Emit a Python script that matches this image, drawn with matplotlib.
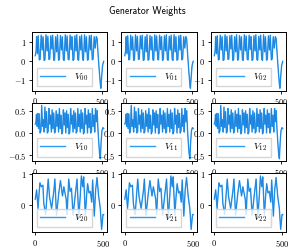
import matplotlib
matplotlib.use("Agg")
import matplotlib.pyplot as plt

plt.rcParams["font.family"] = "serif"
plt.rcParams["font.serif"] = ["cmr10"]
plt.rcParams["mathtext.fontset"] = "cm"
plt.rcParams["axes.formatter.use_mathtext"] = True
plt.rcParams["font.size"] = 6

# extrema of each row's weight trace (step, value)
row0_x = [0, 6, 10, 16, 22, 30, 36, 44, 52, 58, 66, 72, 80, 88, 94, 102, 108, 116,
          124, 130, 138, 144, 152, 160, 166, 174, 180, 188, 196, 202, 210, 216, 224,
          232, 238, 246, 252, 260, 268, 274, 282, 288, 296, 304, 310, 318, 324, 332,
          340, 346, 354, 360, 368, 376, 382, 390, 396, 404, 412, 418, 426, 432, 440,
          448, 456, 462, 470, 478, 486, 490, 496, 503, 511]
row0_y = [0.30, 0.55, 1.30, 0.40, 1.35, 0.08, 0.10, 1.38, 0.60, 1.30, 0.05, 0.08, 1.40,
          0.55, 1.32, 0.10, 0.12, 1.35, 0.65, 1.38, 0.05, 0.08, 1.30, 0.50, 1.40, 0.06,
          0.10, 1.36, 0.60, 1.30, 0.08, 0.05, 1.40, 0.55, 1.34, 0.10, 0.08, 1.38, 0.62,
          1.30, 0.05, 0.10, 1.35, 0.55, 1.40, 0.08, 0.06, 1.32, 0.60, 1.38, 0.10, 0.05,
          1.40, 0.50, 1.30, 0.06, 0.10, 1.35, 0.60, 1.38, 0.08, 0.12, 1.30, 0.70, 1.30,
          1.20, 0.30, -0.50, -1.20, -1.42, -0.80, -0.20, 0.00]

row1_x = [0, 5, 9, 14, 18, 24, 29, 36, 42, 48, 54, 60, 66, 72, 78, 84, 90, 96, 102,
          108, 114, 120, 126, 132, 138, 144, 150, 156, 162, 168, 174, 180, 186, 192,
          198, 204, 210, 216, 222, 228, 234, 240, 246, 252, 258, 264, 270, 276, 282,
          288, 294, 300, 306, 312, 318, 324, 330, 336, 342, 348, 354, 360, 366, 372,
          378, 384, 390, 396, 402, 408, 414, 420, 426, 432, 438, 444, 450, 456, 462,
          468, 474, 480, 486, 492, 498, 505, 511]
row1_y = [0.20, 0.25, 0.42, 0.15, 0.44, 0.10, 0.43, 0.00, 0.05, 0.62, 0.15, 0.30, 0.02,
          0.58, 0.12, 0.48, 0.00, 0.03, 0.55, 0.20, 0.40, 0.02, 0.52, 0.10, 0.45, 0.00,
          0.04, 0.50, 0.15, 0.42, 0.02, 0.55, 0.10, 0.40, -0.02, 0.03, 0.52, 0.18, 0.45,
          0.00, 0.50, 0.12, 0.42, -0.02, 0.02, 0.55, 0.20, 0.40, 0.02, 0.50, 0.10, 0.45,
          0.00, 0.04, 0.55, 0.15, 0.42, 0.02, 0.52, 0.10, 0.45, -0.02, 0.03, 0.55, 0.20,
          0.40, 0.00, 0.52, 0.12, 0.44, 0.00, 0.05, 0.55, 0.15, 0.40, 0.02, 0.55, 0.25,
          0.50, 0.10, -0.20, -0.45, -0.58, -0.20, 0.05, 0.12, 0.10]

row2_x = [0, 10, 20, 34, 44, 56, 63, 76, 95, 105, 120, 137, 144, 156, 173, 185, 200,
          210, 227, 234, 246, 256, 266, 278, 293, 307, 320, 332, 339, 349, 356, 368,
          378, 385, 395, 405, 415, 422, 434, 444, 454, 466, 478, 488, 498, 503]
row2_y = [0.20, 0.50, -0.10, 0.73, 0.60, 0.65, 0.05, -0.30, 0.85, 0.27, -0.10, 0.48,
          0.85, -0.32, 0.40, 0.80, 0.30, 0.60, 0.20, -0.30, 0.85, 0.45, 0.55, -0.32,
          0.30, 0.85, -0.40, 0.40, 0.95, 0.60, 0.92, -0.32, 0.35, 0.70, 0.40, 0.45,
          0.10, 0.82, -0.35, 0.50, 0.90, 0.30, -0.10, -0.78, -0.30, -0.30]

rows_x = [row0_x, row1_x, row2_x]
rows_y = [row0_y, row1_y, row2_y]
row_yticks = [[-1, 0, 1], [-0.5, 0.0, 0.5], [0, 1]]
x_ticks = [0, 500]

fig, axes = plt.subplots(3, 3, figsize=(2.95, 2.49), dpi=100)
fig.subplots_adjust(left=0.108, right=0.97, top=0.871, bottom=0.068,
                    wspace=0.19, hspace=0.2)

for i in range(3):
    for j in range(3):
        ax = axes[i, j]
        ax.plot(rows_x[i], rows_y[i], color="#2a9df4", lw=1.0,
                label=r"$V_{%d%d}$" % (i, j))
        ax.plot(rows_x[i], rows_y[i], color="#1565c0", lw=0.4, alpha=0.6)
        ax.set_yticks(row_yticks[i])
        ax.set_xticks(x_ticks)
        ax.tick_params(length=2.5, width=0.6, pad=1.5, labelsize=6)
        for s in ax.spines.values():
            s.set_linewidth(0.7)
        ax.legend(loc="lower left", fontsize=7, handlelength=2.6,
                  borderpad=0.35, handletextpad=0.9, framealpha=0.8,
                  fancybox=False)

fig.suptitle("Generator Weights", fontfamily="cmss10", fontsize=7, y=0.975)

fig.savefig("out.png", dpi=100)
